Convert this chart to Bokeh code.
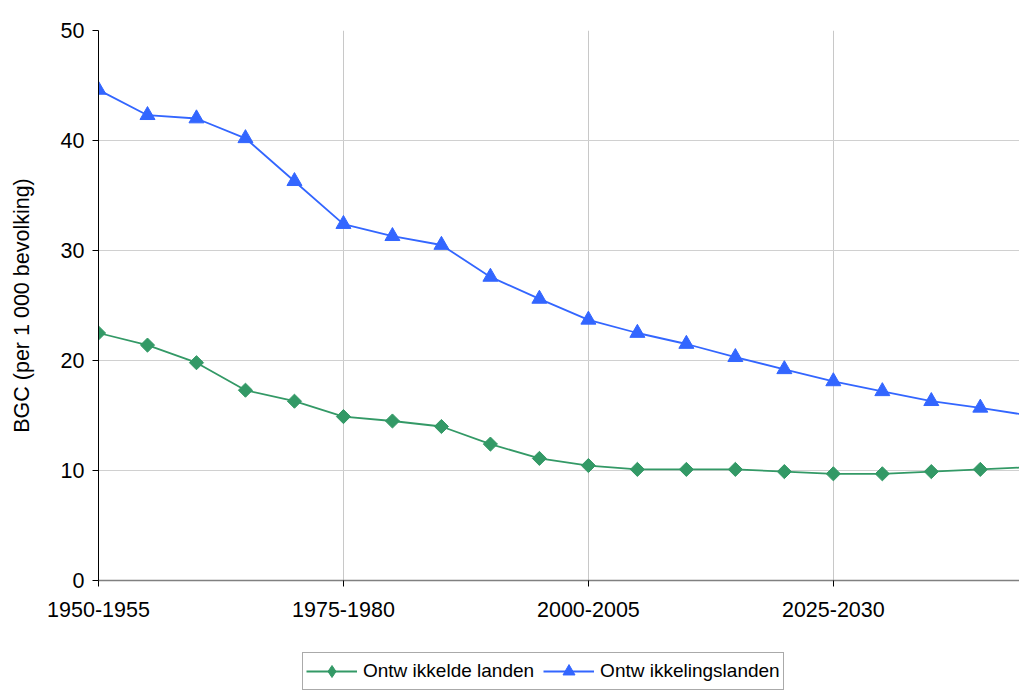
import math
from bokeh.plotting import figure
from bokeh.layouts import column
from bokeh.models import FixedTicker, Legend, LegendItem, Range1d, ColumnDataSource
from bokeh.embed import file_html
from bokeh.resources import INLINE

periods = ["1950-1955", "1955-1960", "1960-1965", "1965-1970", "1970-1975",
           "1975-1980", "1980-1985", "1985-1990", "1990-1995", "1995-2000",
           "2000-2005", "2005-2010", "2010-2015", "2015-2020", "2020-2025",
           "2025-2030", "2030-2035", "2035-2040", "2040-2045", "2045-2050"]
ontwikkelde = [22.5, 21.4, 19.8, 17.3, 16.3, 14.9, 14.5, 14.0, 12.4, 11.1,
               10.45, 10.1, 10.1, 10.1, 9.9, 9.7, 9.7, 9.9, 10.1, 10.3]
ontwikkelings = [44.6, 42.3, 42.0, 40.2, 36.3, 32.4, 31.3, 30.5, 27.6, 25.6,
                 23.7, 22.5, 21.5, 20.3, 19.2, 18.1, 17.2, 16.3, 15.7, 15.0]
tick_idx = [0, 5, 10, 15]
y_ticks = [0, 10, 20, 30, 40, 50]
labels = ["Ontw ikkelde landen", "Ontw ikkelingslanden"]

FONT = "Liberation Sans"
GREEN = "#339966"
BLUE = "#3366FF"

x = list(range(len(periods)))
src = ColumnDataSource(dict(x=x, a=ontwikkelde, b=ontwikkelings))

p = figure(width=1019, height=640, output_backend="svg", toolbar_location=None,
           x_range=Range1d(0, 18.8), y_range=Range1d(0, 50),
           min_border_left=98, min_border_top=30, min_border_right=0,
           min_border_bottom=60)
p.outline_line_color = None
p.background_fill_color = "white"

p.line("x", "a", source=src, line_color=GREEN, line_width=1.8)
p.scatter("x", "a", source=src, marker="square", size=10, angle=math.pi / 4,
          fill_color=GREEN, line_color=GREEN)
p.line("x", "b", source=src, line_color=BLUE, line_width=1.8)
p.scatter("x", "b", source=src, marker="triangle", size=15,
          fill_color=BLUE, line_color=BLUE)

xa = p.xaxis[0]
xa.ticker = FixedTicker(ticks=tick_idx)
xa.major_label_overrides = {i: periods[i] for i in tick_idx}
xa.axis_line_color = "#808080"
xa.axis_line_width = 1.5
xa.major_tick_line_color = "#000000"
xa.major_tick_out = 6
xa.major_tick_in = 0
xa.minor_tick_line_color = None
xa.major_label_standoff = 15
xa.major_label_text_font = FONT
xa.major_label_text_font_size = "21.5px"
xa.major_label_text_color = "#000000"

ya = p.yaxis[0]
ya.ticker = FixedTicker(ticks=y_ticks)
ya.axis_line_color = "#000000"
ya.major_tick_line_color = "#000000"
ya.major_tick_out = 6
ya.major_tick_in = 0
ya.minor_tick_line_color = None
ya.major_label_standoff = 8
ya.major_label_text_font = FONT
ya.major_label_text_font_size = "21.5px"
ya.major_label_text_color = "#000000"
ya.axis_label = "BGC (per 1 000 bevolking)"
ya.axis_label_text_font = FONT
ya.axis_label_text_font_size = "21.5px"
ya.axis_label_text_font_style = "normal"
ya.axis_label_text_color = "#000000"
ya.axis_label_standoff = 24

p.xgrid.grid_line_color = "#c8c8c8"
p.ygrid.grid_line_color = "#d0d0d0"
p.xgrid.ticker = FixedTicker(ticks=tick_idx)
p.ygrid.ticker = FixedTicker(ticks=y_ticks)

# separate strip holding the legend below the chart
q = figure(width=1019, height=51, output_backend="svg", toolbar_location=None,
           x_range=Range1d(0, 1), y_range=Range1d(0, 1),
           min_border_left=0, min_border_top=0, min_border_right=0,
           min_border_bottom=0)
q.axis.visible = False
q.grid.visible = False
q.outline_line_color = None
nan = [float("nan")]
lg_line = q.line(x=nan, y=nan, line_color=GREEN, line_width=1.8)
lg_mark = q.scatter(x=nan, y=nan, marker="diamond", fill_color=GREEN, line_color=GREEN)
lb_line = q.line(x=nan, y=nan, line_color=BLUE, line_width=1.8)
lb_mark = q.scatter(x=nan, y=nan, marker="triangle", fill_color=BLUE, line_color=BLUE)

legend = Legend(items=[LegendItem(label=labels[0], renderers=[lg_line, lg_mark]),
                       LegendItem(label=labels[1], renderers=[lb_line, lb_mark])],
                orientation="horizontal", location=(204, 1),
                label_text_font=FONT, label_text_font_size="19px",
                label_text_color="#000000",
                border_line_color="#555555", border_line_width=1.5,
                glyph_width=51, glyph_height=30, padding=3, spacing=9,
                label_standoff=6, margin=0, background_fill_alpha=1)
q.add_layout(legend, "center")

layout = column(p, q, spacing=0)
open("out.html", "w").write(file_html(layout, INLINE))
